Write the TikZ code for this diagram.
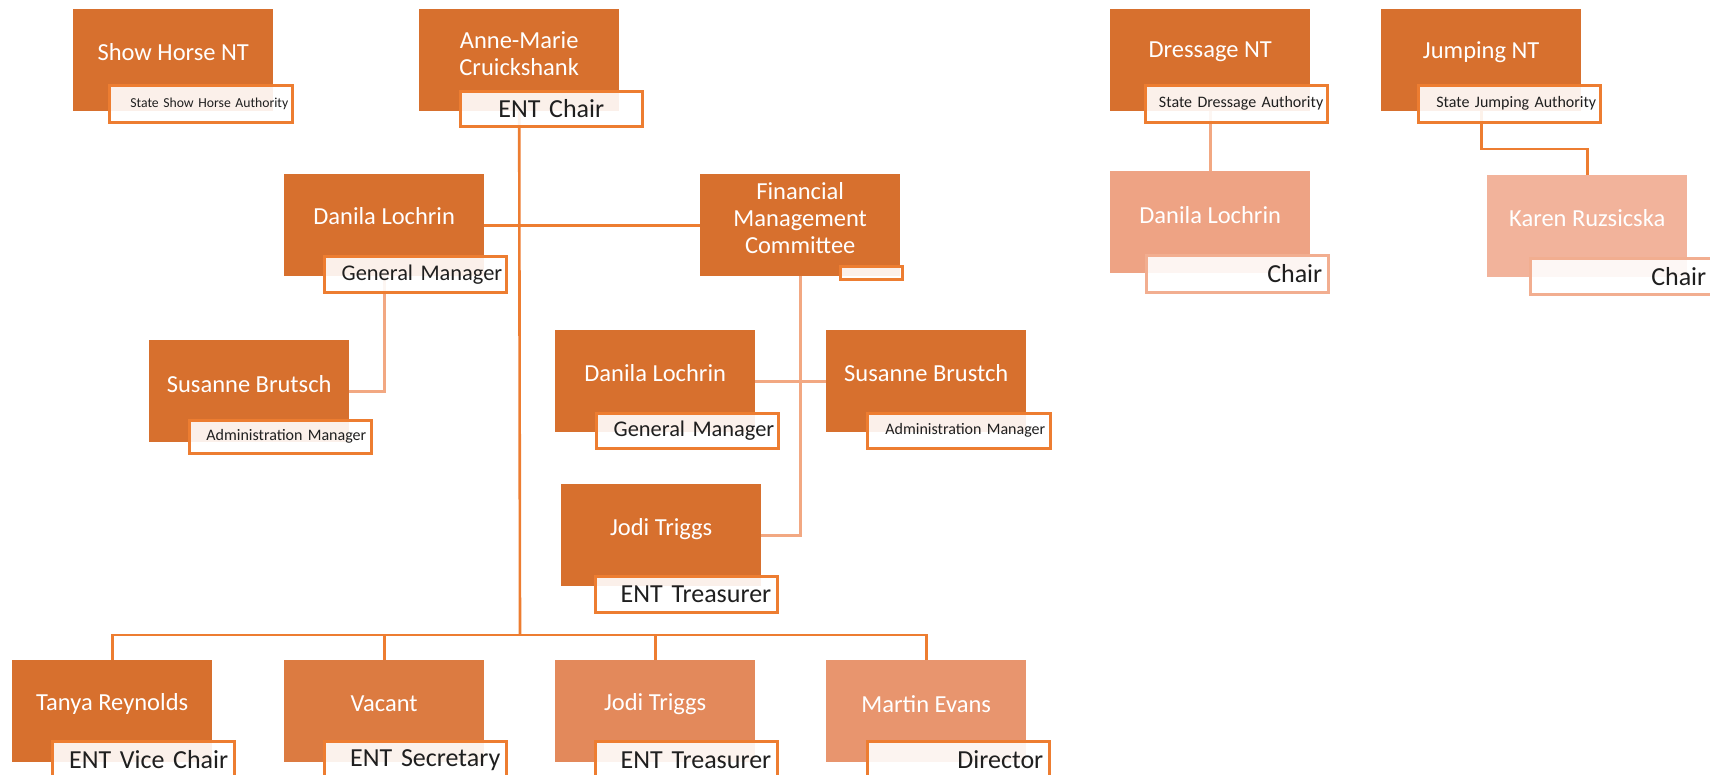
\documentclass[tikz,border=0pt]{standalone}
\usepackage{fontspec}
\setmainfont{Carlito}
\newfontfamily\lblfont{Carlito}[WordSpace=0.6]
\definecolor{cA}{HTML}{D7702E}
\definecolor{cB}{HTML}{DC7B41}
\definecolor{cC}{HTML}{E3895B}
\definecolor{cD}{HTML}{E8956E}
\definecolor{cE}{HTML}{EEA384}
\definecolor{cF}{HTML}{F2B39B}
\definecolor{lineorange}{HTML}{ED7D31}
\definecolor{linelight}{HTML}{F2A882}
\definecolor{lblborder}{HTML}{ED7D31}
\definecolor{lblborderlight}{HTML}{F2AE90}
\definecolor{lbltext}{HTML}{1F1F1F}
\begin{document}
\begin{tikzpicture}[x=1pt,y=-1pt,
  box/.style={rectangle, inner sep=0pt, minimum width=200pt, minimum height=102pt, anchor=north west},
  nm/.style={text=white, font=\fontsize{24.5}{27}\selectfont, align=center, inner sep=0pt},
  lbl/.style={rectangle, draw=lblborder, line width=2.5pt, fill=white, fill opacity=0.9, text opacity=1,
    text=lbltext, minimum width=182pt, minimum height=36pt, anchor=north west, inner ysep=0pt,
    inner xsep=6pt, text width=170pt, align=right, font=\lblfont\fontsize{26}{28}\selectfont},
  smalllbl/.style={inner xsep=4pt, text width=174pt, font=\lblfont\fontsize{16}{18}\selectfont},
  gmlbl/.style={inner xsep=4pt, text width=174pt, font=\lblfont\fontsize{22.4}{24}\selectfont},
  conn/.style={draw=lineorange, line width=2.6pt},
  connlight/.style={draw=linelight, line width=2.6pt}
]
\useasboundingbox (0,0) rectangle (1710,774);

% ---------- boxes ----------
\node[box, fill=cA] (shb) at (73,9) {};
\node[box, fill=cA] (amb) at (419,9) {};
\node[box, fill=cA] (drb) at (1110,9) {};
\node[box, fill=cA] (jpb) at (1381,9) {};
\node[box, fill=cE] (dcb) at (1110,171) {};
\node[box, fill=cF] (krb) at (1487,175) {};
\node[box, fill=cA] (dlb) at (284,174) {};
\node[box, fill=cA] (fmb) at (700,174) {};
\node[box, fill=cA] (slb) at (149,340) {};
\node[box, fill=cA] (dmb) at (555,330) {};
\node[box, fill=cA] (smb) at (826,330) {};
\node[box, fill=cA] (jmb) at (561,484) {};
\node[box, fill=cA] (tyb) at (12,660) {};
\node[box, fill=cB] (vcb) at (284,660) {};
\node[box, fill=cC] (jbb) at (555,660) {};
\node[box, fill=cD] (meb) at (826,660) {};

% ---------- connectors (behind labels) ----------
\coordinate (bus) at (520,635);
\coordinate (jmid) at (1530,149);
\draw[conn] (amb.south) -- (bus);
\draw[conn] (tyb.north) |- (bus);
\draw[conn] (vcb.north) |- (bus);
\draw[conn] (jbb.north) |- (bus);
\draw[conn] (meb.north) |- (bus);
\draw[conn] (dlb.east) -- (fmb.west);
\draw[connlight] (dlb.south) |- (slb.east);
\draw[connlight] (fmb.south) |- (jmb.east);
\draw[connlight] (dmb.east) -- (smb.west);
\draw[connlight] (drb.south) -- (dcb.north);
\draw[conn] (jpb.south) |- (jmid) -| (krb.north);

% redraw boxes over connector ends
\foreach \b/\c in {amb/cA,drb/cA,jpb/cA,dcb/cE,krb/cF,dlb/cA,fmb/cA,slb/cA,dmb/cA,smb/cA,jmb/cA,tyb/cA,vcb/cB,jbb/cC,meb/cD}
  \fill[\c] (\b.north west) rectangle (\b.south east);

% ---------- names ----------
\node[nm] (sht) at ([yshift=-43pt]shb.north) {Show Horse NT};
\node[nm] (amt) at ([yshift=-44.5pt]amb.north) {Anne-Marie\\Cruickshank};
\node[nm] (drt) at ([yshift=-43pt]drb.north) {Dressage NT};
\node[nm] (jpt) at ([yshift=-43pt]jpb.north) {Jumping NT};
\node[nm] (dct) at ([yshift=-44pt]dcb.north) {Danila Lochrin};
\node[nm] (krt) at ([yshift=-43pt]krb.north) {Karen Ruzsicska};
\node[nm] (dlt) at ([yshift=-42pt]dlb.north) {Danila Lochrin};
\node[nm] (fmt) at ([yshift=-44pt]fmb.north) {Financial\\Management\\Committee};
\node[nm] (slt) at ([yshift=-44pt]slb.north) {Susanne Brutsch};
\node[nm] (dmt) at ([yshift=-43pt]dmb.north) {Danila Lochrin};
\node[nm] (smt) at ([yshift=-43pt]smb.north) {Susanne Brustch};
\node[nm] (jmt) at ([yshift=-45pt]jmb.north) {Jodi Triggs};
\node[nm] (tyt) at ([yshift=-44pt]tyb.north) {Tanya Reynolds};
\node[nm] (vct) at ([yshift=-44pt]vcb.north) {Vacant};
\node[nm] (jbt) at ([yshift=-44pt]jbb.north) {Jodi Triggs};
\node[nm] (met) at ([yshift=-44pt]meb.north) {Martin Evans};

% ---------- labels ----------
\node[lbl, inner xsep=4pt, text width=175pt, minimum height=37pt, font=\lblfont\fontsize{13.7}{15}\selectfont] (shl) at (108,84) {State Show Horse Authority};
\node[lbl, align=center, minimum height=35pt] (aml) at (459,90) {ENT Chair};
\node[lbl, smalllbl, minimum height=37pt] (drl) at (1144,84) {State Dressage Authority};
\node[lbl, smalllbl, minimum height=37pt] (jpl) at (1417,84) {State Jumping Authority};
\node[lbl, draw=lblborderlight, minimum height=37pt] (dcl) at (1145,254) {Chair};
\node[lbl, draw=lblborderlight] (krl) at (1529,257) {Chair};
\node[lbl, gmlbl] (dll) at (323,255) {General Manager};
\node[lbl, minimum width=62pt, minimum height=13pt, text width=50pt] (fml) at (839,265) {};
\node[lbl, smalllbl, minimum height=33pt, inner xsep=5pt, text width=172pt] (sll) at (188,419) {Administration Manager};
\node[lbl, gmlbl, minimum height=35pt] (dml) at (595,412) {General Manager};
\node[lbl, smalllbl, minimum height=35pt, inner xsep=5pt, text width=173pt] (sml) at (866,412) {Administration Manager};
\node[lbl] (jml) at (594,575) {ENT Treasurer};
\node[lbl, minimum height=37pt] (tyl) at (51,740) {ENT Vice Chair};
\node[lbl, minimum height=37pt] (vcl) at (323,740) {ENT Secretary};
\node[lbl, minimum height=37pt] (jbl) at (594,740) {ENT Treasurer};
\node[lbl, minimum height=37pt] (mel) at (866,740) {Director};
\end{tikzpicture}
\end{document}
